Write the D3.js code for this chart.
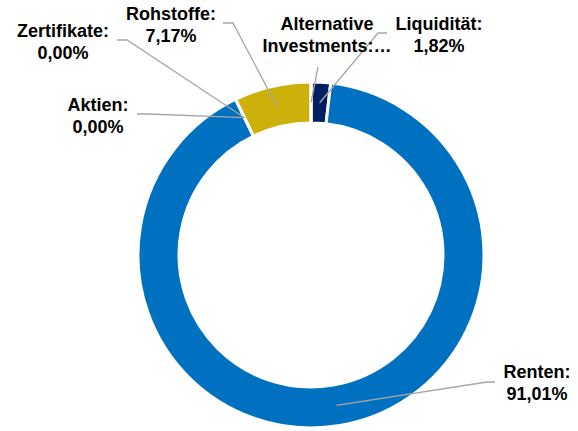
<!DOCTYPE html>
<html>
<head>
<meta charset="utf-8">
<script src="https://cdn.jsdelivr.net/npm/d3@7/dist/d3.min.js"></script>
<style>
  html, body { margin: 0; padding: 0; background: #fff; }
  svg { display: block; }
  text { font-family: "Liberation Sans", Arial, sans-serif; font-weight: bold; font-size: 18px; fill: #000; }
</style>
</head>
<body>
<svg id="chart" width="578" height="431"></svg>
<script>
// Asset allocation (percent), in drawing order clockwise from 12 o'clock
const categories = ["Liquidität", "Renten", "Aktien", "Zertifikate", "Rohstoffe", "Alternative Investments"];
const values     = [1.82, 91.01, 0.00, 0.00, 7.17, 0.00];
const colors     = ["#002060", "#0070C0", "#0070C0", "#0070C0", "#CBB10A", "#0070C0"];
// Label headings; a label that does not fit is cut off with an ellipsis
const labelHeads = [["Liquidität:"], ["Renten:"], ["Aktien:"], ["Zertifikate:"], ["Rohstoffe:"], ["Alternative", "Investments:…"]];
const showValue  = [true, true, true, true, true, false];

// Label placement: text centre x, first baseline y, leader start (lx, ly) and elbow x (ex)
const labelPos = [
  { x: 439, y: 30,  lx: 387, ly: 33,  ex: 378 },
  { x: 537, y: 378, lx: 495, ly: 382, ex: 487 },
  { x: 98,  y: 111, lx: 137, ly: 114, ex: 147 },
  { x: 63,  y: 37,  lx: 117, ly: 40,  ex: 127 },
  { x: 171, y: 20,  lx: 223, ly: 23,  ex: 233 },
  { x: 327, y: 30,  lx: 318, ly: 67,  ex: 318 }
];

const svg = d3.select("#chart");
const cx = 311, cy = 255, rOuter = 173, rInner = 132;

const locale = d3.formatLocale({ decimal: ",", thousands: ".", grouping: [3], currency: ["", " €"] });
const fmt = v => locale.format(".2f")(v) + "%";

const pie = d3.pie().sort(null).value(d => d.value);
const data = categories.map((c, i) => ({ name: c, value: values[i], i }));
const arcs = pie(data);

const arc = d3.arc().innerRadius(rInner).outerRadius(rOuter);
const g = svg.append("g").attr("transform", `translate(${cx},${cy})`);

g.selectAll("path.slice")
  .data(arcs)
  .join("path")
  .attr("class", "slice")
  .attr("d", arc)
  .attr("fill", d => colors[d.data.i])
  .attr("stroke", "#fff")
  .attr("stroke-width", 3)
  .attr("stroke-linejoin", "miter");

// Leader lines from each label to the slice centroid
const leaders = svg.append("g");
arcs.forEach(d => {
  const p = labelPos[d.data.i];
  const [mx, my] = arc.centroid(d);
  const pts = [[p.lx, p.ly], [p.ex, p.ly], [cx + mx, cy + my]];
  leaders.append("path")
    .attr("d", d3.line()(pts))
    .attr("fill", "none")
    .attr("stroke", "#A6A6A6")
    .attr("stroke-width", 1.3);
});

// Labels
const labels = svg.append("g");
arcs.forEach(d => {
  const i = d.data.i;
  const p = labelPos[i];
  const lines = labelHeads[i].concat(showValue[i] ? [fmt(values[i])] : []);
  const t = labels.append("text").attr("text-anchor", "middle");
  lines.forEach((s, k) => {
    t.append("tspan").attr("x", p.x).attr("y", p.y + k * 22).text(s);
  });
});
</script>
</body>
</html>
